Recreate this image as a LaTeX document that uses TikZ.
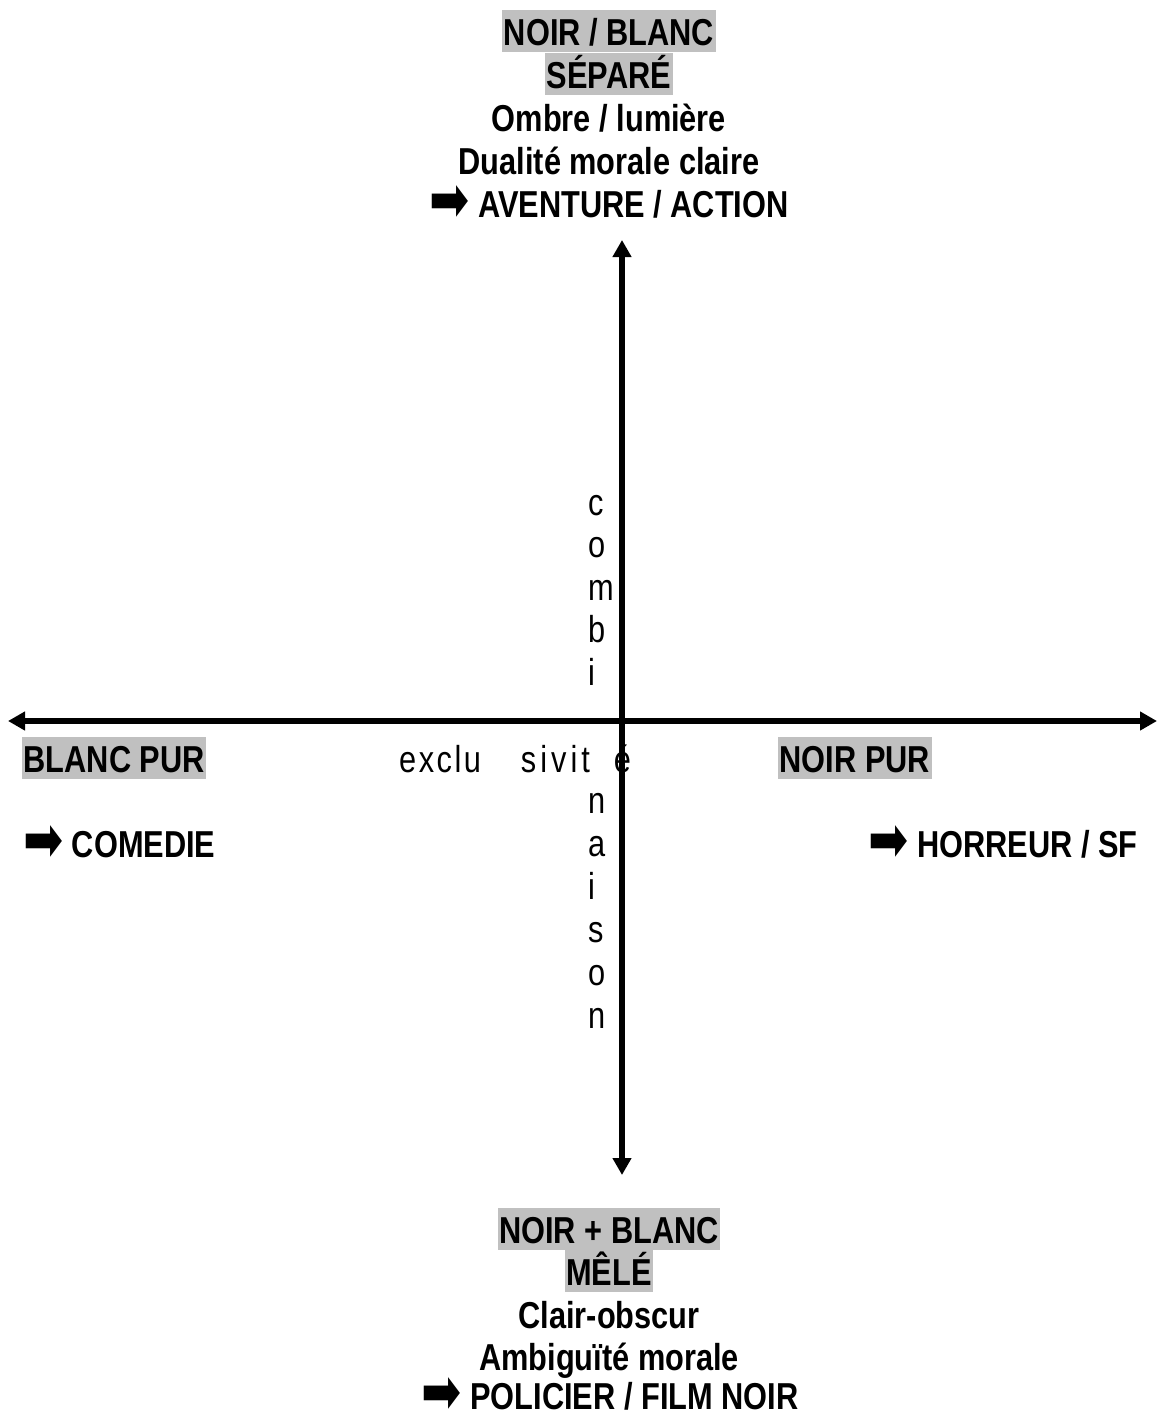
\documentclass[tikz,border=0pt]{standalone}
\usepackage{fontspec}
\usepackage{graphicx}
\setmainfont[FakeStretch=0.82]{Liberation Sans}
\newfontfamily\arrowfont{DejaVu Sans}
\usetikzlibrary{arrows.meta}

\definecolor{hlgray}{RGB}{192,192,192}
\newcommand{\genrearrow}{\smash{\raisebox{-4.5pt}{\scalebox{1.2}[1.6]{\normalfont\arrowfont\fontsize{40}{43}\selectfont ➡}}}}
\newcommand{\lsp}{\kern2.5pt}

\begin{document}
\begin{tikzpicture}[x=1pt, y=-1pt, inner sep=0pt,
                    every node/.style={font=\fontsize{37.5}{43}\selectfont\bfseries},
                    axis/.style={line width=5.5pt, {Triangle[length=17pt,width=18pt]}-{Triangle[length=17pt,width=18pt]}},
                    pole node/.style={anchor=base},
                    grey node/.style={anchor=base, fill=hlgray, inner xsep=1.5pt, text height=35pt, text depth=7pt},
                    letter node/.style={anchor=base west, font=\fontsize{37.5}{43}\selectfont\mdseries}]

	\useasboundingbox (0,0) rectangle (1158,1416);

	% axes
	\coordinate (west) at (8,721);
	\coordinate (east) at (1157,721);
	\coordinate (north) at (622,240);
	\coordinate (south) at (622,1175);

	% top pole
	\node[grey node] (sep1) at (609,45) {NOIR / BLANC};
	\node[grey node] (sep2) at (609,88) {SÉPARÉ};
	\node[pole node] (sep3) at (609,131) {Ombre / lumière};
	\node[pole node] (sep4) at (609,174) {Dualité morale claire};
	\node[pole node] (sep5) at (609,217) {\genrearrow\ AVENTURE / ACTION};

	% bottom pole
	\node[grey node] (mel1) at (609,1243) {NOIR + BLANC};
	\node[grey node] (mel2) at (609,1285) {MÊLÉ};
	\node[pole node] (mel3) at (609,1328) {Clair-obscur};
	\node[pole node] (mel4) at (609,1370) {Ambiguïté morale};
	\node[pole node] (mel5) at (610,1409) {\genrearrow\ POLICIER / FILM NOIR};

	% left and right poles
	\node[grey node, anchor=base west] (blanc) at (22,772) {BLANC PUR};
	\node[pole node, anchor=base west] (comedie) at (23,857) {\genrearrow\ COMEDIE};
	\node[grey node, anchor=base west] (noir) at (778,772) {NOIR PUR};
	\node[pole node, anchor=base east] (horreur) at (1138,857) {\genrearrow\ HORREUR / SF};

	% axis words
	\node[letter node] (excl) at (399,772) {e\lsp x\lsp c\lsp l\lsp u\hspace{40pt}s\kern4pt i\kern4pt v\kern4pt i\kern4pt t\hspace{24pt}é};
	\foreach \l [count=\i] in {c,o,m,b,i}
		\node[letter node] (comb\i) at (588,{472.5+42.5*\i}) {\l};
	\foreach \l [count=\i] in {n,a,i,s,o,n}
		\node[letter node] (nais\i) at (588,{770+43*\i}) {\l};

	\draw[axis] (west) -- (east);
	\draw[axis] (north) -- (south);

\end{tikzpicture}
\end{document}
